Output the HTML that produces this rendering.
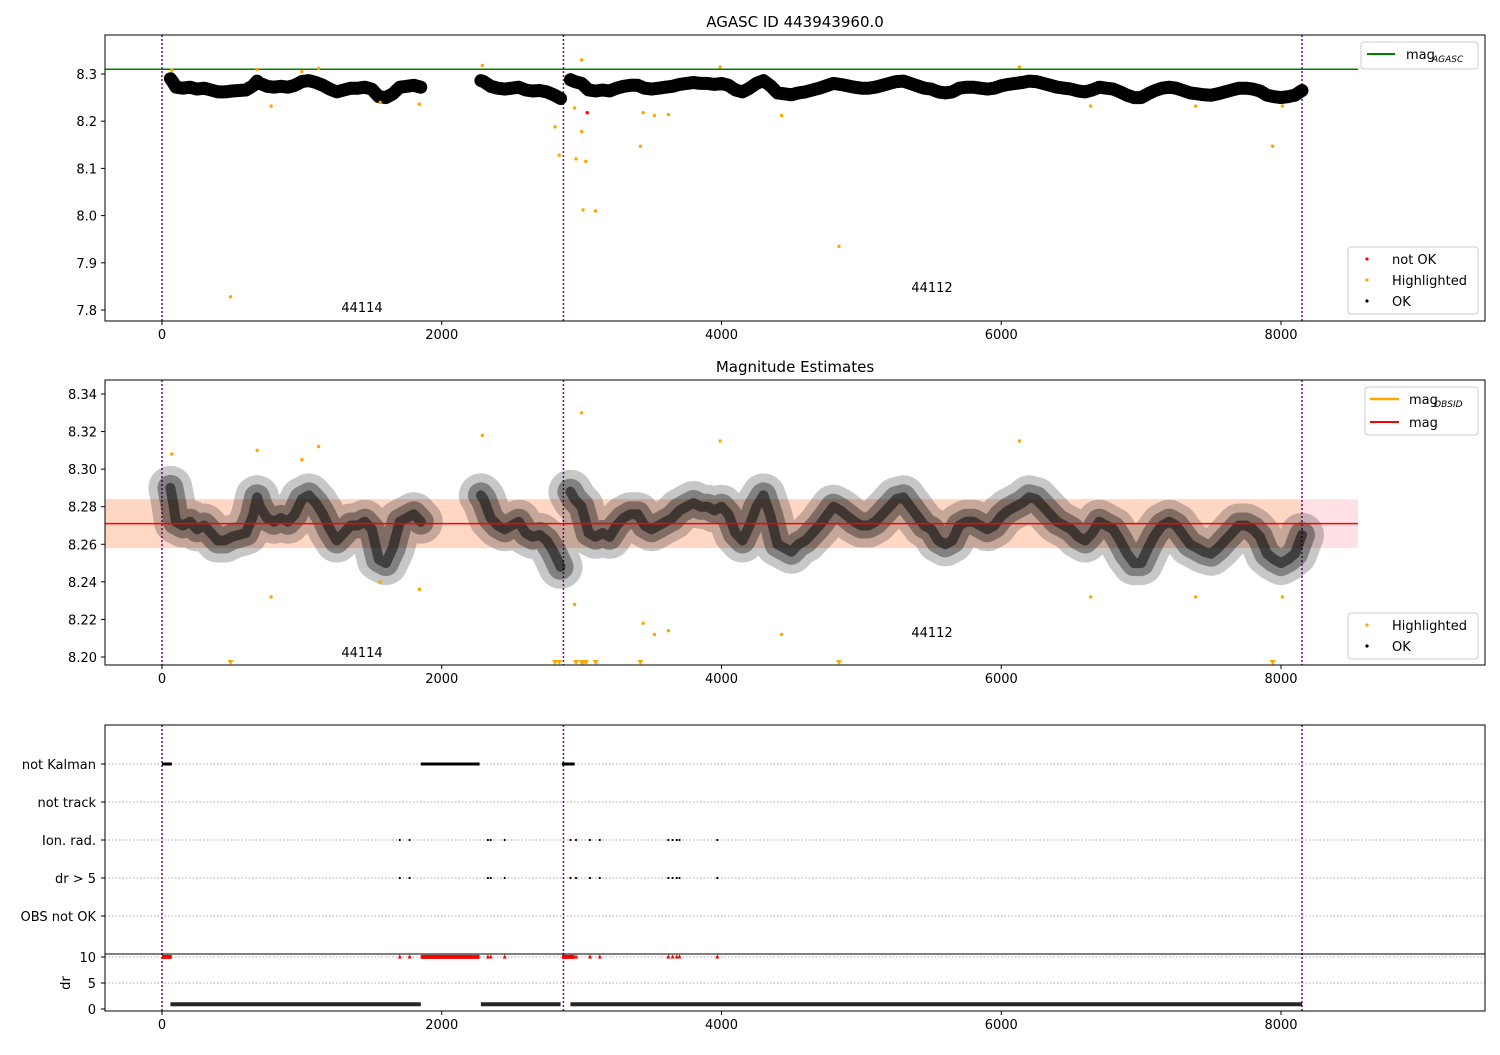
<!DOCTYPE html>
<html><head><meta charset="utf-8"><style>
body{margin:0;background:#fff;font-family:"Liberation Sans","DejaVu Sans",sans-serif}
svg text{font-family:"DejaVu Sans","Liberation Sans",sans-serif;font-size:13px}
</style></head><body>
<svg id="c" width="1500" height="1050" xmlns="http://www.w3.org/2000/svg"></svg>
<script>
// ---- data ----
const trendT=[60,80,100,150,200,250,300,350,400,450,500,550,600,650,680,700,750,800,850,900,950,1000,1050,1100,1150,1200,1250,1300,1350,1400,1450,1500,1550,1600,1650,1700,1750,1800,1850,null,2280,2300,2350,2400,2450,2500,2550,2600,2650,2700,2750,2800,2850,null,2920,2950,3000,3050,3100,3150,3200,3250,3300,3350,3400,3450,3500,3550,3600,3650,3700,3750,3800,3850,3900,3950,4000,4050,4100,4150,4200,4250,4300,4350,4400,4450,4500,4550,4600,4650,4700,4750,4800,4850,4900,4950,5000,5050,5100,5150,5200,5250,5300,5350,5400,5450,5500,5550,5600,5650,5700,5750,5800,5850,5900,5950,6000,6050,6100,6150,6200,6250,6300,6350,6400,6450,6500,6550,6600,6650,6700,6750,6800,6850,6900,6950,7000,7050,7100,7150,7200,7250,7300,7350,7400,7450,7500,7550,7600,7650,7700,7750,7800,7850,7900,7950,8000,8050,8100,8150];
const trendMag=[8.29,8.282,8.272,8.27,8.272,8.268,8.27,8.266,8.262,8.262,8.264,8.265,8.266,8.275,8.285,8.28,8.274,8.272,8.274,8.272,8.276,8.284,8.286,8.282,8.276,8.268,8.262,8.266,8.27,8.27,8.272,8.268,8.252,8.25,8.258,8.272,8.274,8.276,8.272,null,8.286,8.284,8.274,8.27,8.268,8.27,8.272,8.266,8.264,8.265,8.262,8.256,8.248,null,8.288,8.284,8.28,8.266,8.264,8.266,8.264,8.27,8.274,8.276,8.276,8.27,8.268,8.27,8.272,8.274,8.278,8.28,8.282,8.28,8.28,8.278,8.28,8.276,8.266,8.262,8.27,8.28,8.286,8.275,8.26,8.258,8.256,8.26,8.262,8.266,8.27,8.275,8.28,8.278,8.275,8.272,8.27,8.27,8.272,8.276,8.28,8.284,8.285,8.28,8.275,8.27,8.268,8.262,8.26,8.262,8.27,8.272,8.272,8.27,8.268,8.27,8.275,8.278,8.28,8.282,8.285,8.284,8.28,8.276,8.272,8.27,8.268,8.264,8.262,8.266,8.272,8.27,8.268,8.262,8.255,8.25,8.25,8.258,8.265,8.27,8.272,8.27,8.265,8.26,8.258,8.256,8.255,8.258,8.262,8.266,8.27,8.27,8.268,8.264,8.255,8.252,8.25,8.252,8.255,8.265];
const hiT=[70,680,1000,1120,2290,3000,3990,6130,490,780,1560,1840,2810,2840,2950,2960,3000,3010,3030,3100,3420,3440,3520,3620,4430,4840,6640,7390,7940,8010];
const hiMag=[8.308,8.31,8.305,8.312,8.318,8.33,8.315,8.315,7.828,8.232,8.24,8.236,8.188,8.128,8.228,8.12,8.178,8.012,8.115,8.01,8.147,8.218,8.212,8.214,8.212,7.935,8.232,8.232,8.147,8.232];
const notOkT=[3040];const notOkMag=[8.218];
const flagCats=["not Kalman","not track","Ion. rad.","dr > 5","OBS not OK"];
const kalmanRanges=[[0,70],[1850,2270],[2860,2950]];
const ionT=[1700,1770,2330,2350,2450,2920,2960,3060,3130,3620,3650,3680,3700,3970];
const obsBounds=[0,2870,8150];
const magAgasc=8.31, magMean=8.271, magLo=8.258, magHi=8.284;
const xTicks=[0,2000,4000,6000,8000];
const y1Ticks=[7.8,7.9,8.0,8.1,8.2,8.3];
const y2Ticks=[8.20,8.22,8.24,8.26,8.28,8.30,8.32,8.34];
const drTicks=[0,5,10];
// ---- scales ----
const L=105,R=1485,X=t=>162+t*1119/8000;
const Y1=m=>74+(8.3-m)*472, Y2=m=>394+(8.34-m)*1878.6, YD=d=>1009-d*5.2;
const S=document.getElementById('c');const NS='http://www.w3.org/2000/svg';
function el(tag,attrs,name,txt){const e=document.createElementNS(NS,tag);for(const k in attrs)e.setAttribute(k,attrs[k]);


if(txt!=null)e.textContent=txt;S.appendChild(e);return e;}
function txt(x,y,s,name,anchor,fs){const e=el('text',{x:x,y:y,'text-anchor':anchor||'middle',fill:'#000'},name,s);if(fs)e.style.fontSize=fs+'px';return e;}
function frame(top,bot,name){el('rect',{x:L,y:top,width:R-L,height:bot-top,fill:'none',stroke:'#000','stroke-width':1},name);}
function xaxis(bot,n){xTicks.forEach(t=>{el('line',{x1:X(t),x2:X(t),y1:bot,y2:bot+4,stroke:'#000'},n+'-tick');txt(X(t),bot+18,String(t),n+'-tick-label');});}
function vlines(top,bot){obsBounds.forEach(t=>el('line',{x1:X(t),x2:X(t),y1:top,y2:bot,stroke:'#800080','stroke-width':1.5,'stroke-dasharray':'2,2'},'obsid-boundary'));}
function trendPath(Y){let d='',pen=false;trendT.forEach((t,i)=>{if(t===null){pen=false;return;}d+=(pen?'L':'M')+X(t).toFixed(1)+','+Y(trendMag[i]).toFixed(1);pen=true;});return d;}
// ---- panel 1 ----
txt(795,27,'AGASC ID 443943960.0','title-top','middle',15);
el('line',{x1:L,x2:X(8550),y1:Y1(magAgasc),y2:Y1(magAgasc),stroke:'#008000','stroke-width':1.5},'mag-agasc-line');
vlines(35,321);
el('path',{d:trendPath(Y1),fill:'none',stroke:'#000','stroke-width':13,'stroke-linejoin':'round','stroke-linecap':'round'},'ok-points-band');
hiT.forEach((t,i)=>{if(Y1(hiMag[i])>35&&Y1(hiMag[i])<321)el('circle',{cx:X(t),cy:Y1(hiMag[i]),r:1.7,fill:'orange'},'highlighted-point');});
notOkT.forEach((t,i)=>el('circle',{cx:X(t),cy:Y1(notOkMag[i]),r:1.7,fill:'red'},'not-ok-point'));
frame(35,321,'axes-top');xaxis(321,'x1');
y1Ticks.forEach(v=>{el('line',{x1:L-4,x2:L,y1:Y1(v),y2:Y1(v),stroke:'#000'},'y1-tick');txt(L-8,Y1(v)+5,v.toFixed(1),'y1-tick-label','end');});
txt(362,312,'44114','obsid-label-44114');txt(932,292,'44112','obsid-label-44112');
el('rect',{x:1361,y:42,width:117,height:27,fill:'#fff',stroke:'#ccc',rx:3},'legend-mag-agasc');
el('line',{x1:1367,x2:1395,y1:54,y2:54,stroke:'#008000','stroke-width':2},'legend-agasc-swatch');
txt(1406,59,'mag','legend-agasc-label','start');txt(1432,62,'AGASC','legend-agasc-sub','start',9).style.fontStyle='italic';
el('rect',{x:1348,y:247,width:130,height:67,fill:'#fff',stroke:'#ccc',rx:3},'legend-points-top');
[['red','not OK',259],['orange','Highlighted',280],['#000','OK',301]].forEach(a=>{el('circle',{cx:1367,cy:a[2],r:1.6,fill:a[0]},'legend-marker');txt(1392,a[2]+5,a[1],'legend-label','start');});
// ---- panel 2 ----
txt(795,372,'Magnitude Estimates','title-middle','middle',15);
el('rect',{x:L,y:Y2(magHi),width:X(8550)-L,height:Y2(magLo)-Y2(magHi),fill:'#ffe0e4'},'mag-error-band');
el('rect',{x:L,y:Y2(magHi),width:X(8150)-L,height:Y2(magLo)-Y2(magHi),fill:'#ffd7c4'},'obsid-error-band');
vlines(380,665);
el('path',{d:trendPath(Y2),fill:'none',stroke:'#000','stroke-width':44,'stroke-opacity':0.22,'stroke-linejoin':'round','stroke-linecap':'round'},'ok-points-spread');
el('path',{d:trendPath(Y2),fill:'none',stroke:'#000','stroke-width':26,'stroke-opacity':0.35,'stroke-linejoin':'round','stroke-linecap':'round'},'ok-points-mid');
el('path',{d:trendPath(Y2),fill:'none',stroke:'#000','stroke-width':10,'stroke-opacity':0.5,'stroke-linejoin':'round','stroke-linecap':'round'},'ok-points-core');
el('line',{x1:L,x2:X(8550),y1:Y2(magMean),y2:Y2(magMean),stroke:'red','stroke-width':1.5},'mag-line');
hiT.forEach((t,i)=>{const y=Y2(hiMag[i]);if(y<657)el('circle',{cx:X(t),cy:y,r:1.7,fill:'orange'},'highlighted-point');else el('path',{d:`M${X(t)-3},660 L${X(t)+3},660 L${X(t)},665 Z`,fill:'orange'},'highlighted-offscale');});
frame(380,665,'axes-middle');xaxis(665,'x2');
y2Ticks.forEach(v=>{el('line',{x1:L-4,x2:L,y1:Y2(v),y2:Y2(v),stroke:'#000'},'y2-tick');txt(L-8,Y2(v)+5,v.toFixed(2),'y2-tick-label','end');});
txt(362,657,'44114','obsid-label-44114');txt(932,637,'44112','obsid-label-44112');
el('rect',{x:1365,y:387,width:113,height:48,fill:'#fff',stroke:'#ccc',rx:3},'legend-mag');
el('line',{x1:1370,x2:1399,y1:399,y2:399,stroke:'orange','stroke-width':2.5},'legend-obsid-swatch');
txt(1409,404,'mag','legend-obsid-label','start');txt(1434,407,'OBSID','legend-obsid-sub','start',9).style.fontStyle='italic';
el('line',{x1:1370,x2:1399,y1:422,y2:422,stroke:'red','stroke-width':2},'legend-mag-swatch');
txt(1409,427,'mag','legend-mag-label','start');
el('rect',{x:1348,y:613,width:130,height:46,fill:'#fff',stroke:'#ccc',rx:3},'legend-points-middle');
[['orange','Highlighted',625],['#000','OK',646]].forEach(a=>{el('circle',{cx:1367,cy:a[2],r:1.6,fill:a[0]},'legend-marker');txt(1392,a[2]+5,a[1],'legend-label','start');});
// ---- panel 3 ----
const catY=i=>764+i*38;
flagCats.forEach((c,i)=>{el('line',{x1:L,x2:R,y1:catY(i),y2:catY(i),stroke:'#aaa','stroke-dasharray':'1.5,2'},'flag-grid');el('line',{x1:L-4,x2:L,y1:catY(i),y2:catY(i),stroke:'#000'},'flag-tick');txt(L-9,catY(i)+5,c,'flag-label','end');});
[YD(5),YD(10)].forEach(y=>el('line',{x1:L,x2:R,y1:y,y2:y,stroke:'#aaa','stroke-dasharray':'1.5,2'},'dr-grid'));
vlines(725,1011);
kalmanRanges.forEach(r=>el('rect',{x:X(r[0]),y:catY(0)-1.5,width:X(r[1])-X(r[0]),height:3,fill:'#000'},'not-kalman-flag'));
ionT.forEach(t=>{el('circle',{cx:X(t),cy:catY(2),r:1.1,fill:'#000'},'ion-rad-flag');el('circle',{cx:X(t),cy:catY(3),r:1.1,fill:'#000'},'dr-flag');el('path',{d:`M${X(t)-2},${YD(9.7)} L${X(t)+2},${YD(9.7)} L${X(t)},${YD(10.5)} Z`,fill:'red'},'dr-capped-point');});
kalmanRanges.forEach(r=>el('rect',{x:X(r[0]),y:YD(10.4),width:X(r[1])-X(r[0]),height:4,fill:'red'},'dr-capped-range'));
let dd='',pen=false;trendT.forEach((t,i)=>{if(t===null){pen=false;return;}dd+=(pen?'L':'M')+X(t).toFixed(1)+','+YD(0.9).toFixed(1);pen=true;});
el('path',{d:dd,fill:'none',stroke:'#000','stroke-width':4,'stroke-opacity':0.85},'dr-points');
el('line',{x1:L,x2:R,y1:954,y2:954,stroke:'#000'},'dr-separator');
frame(725,1011,'axes-bottom');xaxis(1011,'x3');
drTicks.forEach(v=>{el('line',{x1:L-4,x2:L,y1:YD(v),y2:YD(v),stroke:'#000'},'dr-tick');txt(L-9,YD(v)+5,String(v),'dr-tick-label','end');});
const t=txt(70,983,'dr','dr-axis-title');t.setAttribute('transform','rotate(-90 70 983)');
</script>
</body></html>
